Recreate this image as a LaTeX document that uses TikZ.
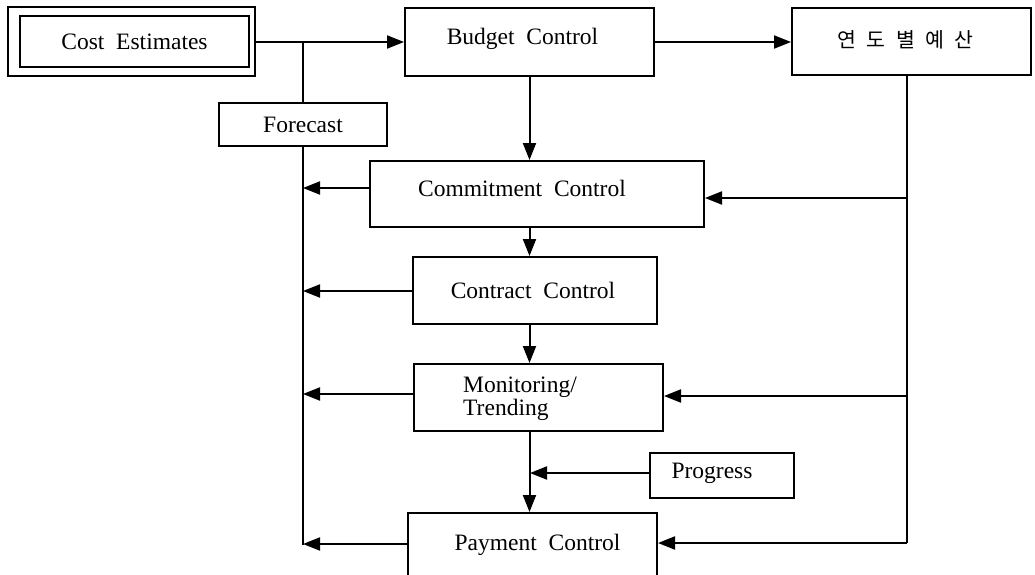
\documentclass[tikz,border=0pt]{standalone}
\usepackage{fontspec}
\setmainfont{Liberation Serif}
\newfontfamily\krfont{Noto Sans CJK KR}
\usetikzlibrary{arrows.meta}

\begin{document}
\begin{tikzpicture}[x=1pt,y=-1pt,
  box/.style={draw, line width=2pt, inner sep=0pt},
  txt/.style={font=\fontsize{23.5}{24}\selectfont, inner sep=0pt},
  link/.style={line width=2pt},
  arr/.style={line width=2pt, -{Triangle[length=17pt,width=13pt]}}]
\useasboundingbox (0,0) rectangle (1035,575);

% boxes
\node[box, minimum width=247pt, minimum height=69pt] (ce) at (131.5,42) {};
\node[box, minimum width=229pt, minimum height=51pt, txt] (cei) at (134.5,42) {Cost\enspace Estimates};
\node[box, minimum width=168pt, minimum height=43pt, txt] (fc) at (303,124.5) {Forecast};
\node[box, minimum width=249pt, minimum height=68pt] (bc) at (529.5,42) {};
\node[txt] at ([xshift=-7pt,yshift=3pt]bc.center) {Budget\enspace Control};
\node[box, minimum width=239pt, minimum height=67pt] (yb) at (911.5,42) {};
\node[inner sep=0pt, font=\krfont\fontsize{20.5}{21}\selectfont] at ([xshift=-6pt,yshift=2pt]yb.center)
  {연\hspace{0.5em}도\hspace{0.5em}별\hspace{0.5em}예\hspace{0.5em}산};
\node[box, minimum width=334pt, minimum height=66pt] (cc) at (537,194) {};
\node[txt] at ([xshift=-15pt,yshift=6pt]cc.center) {Commitment\enspace Control};
\node[box, minimum width=244pt, minimum height=67pt] (kc) at (535,290.5) {};
\node[txt] at ([xshift=-2pt]kc.center) {Contract\enspace Control};
\node[box, minimum width=249pt, minimum height=67pt] (mt) at (538.5,397.5) {};
\node[txt, anchor=west, align=left, font=\fontsize{23.5}{23}\selectfont] at (463,398.5) {Monitoring/\\Trending};
\node[box, minimum width=144pt, minimum height=45pt] (pg) at (722,475.5) {};
\node[txt] at ([xshift=-10pt,yshift=2pt]pg.center) {Progress};
\node[box, minimum width=249pt, minimum height=65pt] (pc) at (532.5,545.5) {};
\node[txt] at ([xshift=5pt,yshift=1pt]pc.center) {Payment\enspace Control};

% collecting lines
\coordinate (j) at (303,42);
\coordinate (lb) at (303,545);
\coordinate (rb) at (907,543);
\coordinate (l1) at (303,188);
\coordinate (l2) at (303,291);
\coordinate (l3) at (303,394);
\coordinate (l4) at (303,544);
\coordinate (r1) at (907,198);
\coordinate (r2) at (907,396);
\coordinate (pj) at (530,473);

% main flow
\draw[arr] (ce.east) -- (bc.west);
\draw[arr] (bc.east) -- (yb.west);
\draw[link] (j) -- (fc.north);
\draw[link] (fc.south) -- (lb);
\draw[link] (yb.south -| rb) -- (rb);
\draw[arr] (bc.south) -- (cc.north -| bc.south);
\draw[arr] (cc.south -| bc.south) -- (kc.north -| bc.south);
\draw[arr] (kc.south -| bc.south) -- (mt.north -| bc.south);
\draw[arr] (mt.south -| bc.south) -- (pc.north -| bc.south);
\draw[arr] ([yshift=2.5pt]pg.west) -- (pj);

% feedback to the forecast line
\draw[arr] ([yshift=6pt]cc.west) -- (l1);
\draw[arr] ([yshift=-0.5pt]kc.west) -- (l2);
\draw[arr] ([yshift=3.5pt]mt.west) -- (l3);
\draw[arr] ([yshift=1.5pt]pc.west) -- (l4);

% annual budget feeds
\draw[arr] (r1) -- ([yshift=-4pt]cc.east);
\draw[arr] (r2) -- ([yshift=1.5pt]mt.east);
\draw[arr] (rb) -- ([yshift=2.5pt]pc.east);
\end{tikzpicture}
\end{document}
